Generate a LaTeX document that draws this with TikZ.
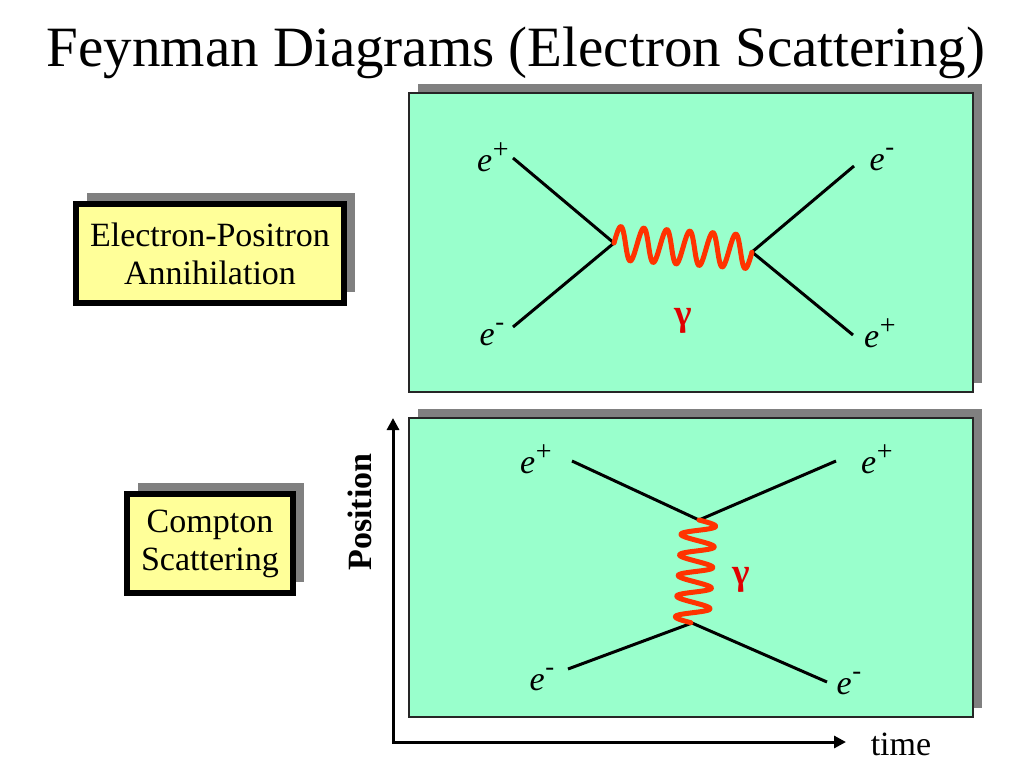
\documentclass[tikz,border=0pt]{standalone}
\usepackage{fontspec}
\setmainfont{Liberation Serif}
\usetikzlibrary{arrows.meta,shadows,calc}
\definecolor{panelgreen}{HTML}{99FFCC}
\definecolor{boxyellow}{HTML}{FFFF99}
\definecolor{shadowgray}{HTML}{808080}
\definecolor{photonred}{HTML}{FF3300}
\definecolor{gammared}{HTML}{E00000}
\newcommand{\epos}{e\kern0.5pt\raisebox{0.36em}{\upshape\fontsize{21}{21}\selectfont +}}
\newcommand{\eneg}{e\kern0.5pt\raisebox{0.42em}{\upshape\fontsize{20}{20}\selectfont -}}
\begin{document}
\begin{tikzpicture}[x=0.75pt,y=-0.75pt,
  panel/.style={draw=black!85, line width=0.8pt, fill=panelgreen, minimum width=423pt, minimum height=224.25pt, inner sep=0pt,
    drop shadow={shadow xshift=7pt, shadow yshift=7pt, fill=shadowgray, opacity=1}},
  labelbox/.style={draw=black, line width=4.5pt, fill=boxyellow, align=center, inner sep=0pt,
    font=\fontsize{25.5}{28.5}\selectfont,
    drop shadow={shadow xshift=8.25pt, shadow yshift=8.25pt, fill=shadowgray, opacity=1}},
  fermion/.style={line width=2.25pt, black},
  photon/.style={line width=3.75pt, photonred, line cap=round, line join=round},
  plabel/.style={font=\fontsize{25.5}{28}\selectfont\itshape, anchor=base, inner sep=0pt},
  glabel/.style={font=\fontsize{28}{30}\selectfont\bfseries, text=gammared, inner sep=0pt},
  axis/.style={line width=2.25pt, line join=miter, {Triangle[length=9pt,width=9pt]}-{Triangle[length=9pt,width=9pt]}},
  axlabel/.style={font=\fontsize{25.5}{28}\selectfont, inner sep=0pt}
]
\useasboundingbox (0,0) rectangle (1024,768);

% title
\node[font=\fontsize{42.75}{50}\selectfont, anchor=base, inner sep=0pt] (title) at (516,66) {Feynman Diagrams (Electron Scattering)};

% panels
\node[panel] (p1) at (691,242.5) {};
\node[panel] (p2) at (691,567.5) {};

% label boxes
\node[labelbox, minimum width=201pt, minimum height=74.25pt] (ann) at (210,253.5) {Electron-Positron\\Annihilation};
\node[labelbox, minimum width=124.5pt, minimum height=74.25pt] (comp) at (210,543.5) {Compton\\Scattering};

% top diagram
\coordinate (a1) at (513,158);
\coordinate (a2) at (513,327);
\coordinate (v1) at (614,243);
\coordinate (v2) at (752,252);
\coordinate (a3) at (854,166);
\coordinate (a4) at (853,335);
\draw[fermion] (a1) -- (v1) -- (a2);
\draw[fermion] (a3) -- (v2) -- (a4);
\draw[photon] let \p1=(v1), \p2=(v2), \n1={veclen(\x2-\x1,\y2-\y1)} in
  plot[variable=\t, domain=0:1, samples=241, smooth]
  ({\x1+\t*(\x2-\x1)-12.6pt*sin(2160*\t)*(\y2-\y1)/\n1},
   {\y1+\t*(\y2-\y1)+12.6pt*sin(2160*\t)*(\x2-\x1)/\n1});

\node[plabel] (l1) at (493,171) {\epos};
\node[plabel] (l2) at (882,170) {\eneg};
\node[plabel] (l3) at (492,345) {\eneg};
\node[plabel] (l4) at (880,347) {\epos};
\node[glabel] (g1) at (683,321) {γ};

% bottom diagram
\coordinate (b1) at (572,461);
\coordinate (b2) at (836,461);
\coordinate (w1) at (699,520);
\coordinate (w2) at (692,623);
\coordinate (b3) at (568,669);
\coordinate (b4) at (827,682);
\draw[fermion] (b1) -- (w1) -- (b2);
\draw[fermion] (b3) -- (w2) -- (b4);
\draw[photon] let \p1=(w1), \p2=(w2), \n1={veclen(\x2-\x1,\y2-\y1)} in
  plot[variable=\t, domain=0:1, samples=201, smooth]
  ({\x1+\t*(\x2-\x1)-12.75pt*sin(1800*\t)*(\y2-\y1)/\n1},
   {\y1+\t*(\y2-\y1)+12.75pt*sin(1800*\t)*(\x2-\x1)/\n1});

\node[plabel] (m1) at (536,473) {\epos};
\node[plabel] (m2) at (877,473) {\epos};
\node[plabel] (m3) at (542,690) {\eneg};
\node[plabel] (m4) at (849,694) {\eneg};
\node[glabel] (g2) at (741,580) {γ};

% axes
\coordinate (O) at (393,742);
\coordinate (ytip) at (393,418);
\coordinate (xtip) at (846,742);
\draw[axis] (ytip) -- (O) -- (xtip);
\node[axlabel, font=\fontsize{25.5}{28}\selectfont\bfseries, rotate=90] (pos) at (360,512) {Position};
\node[axlabel, anchor=base] (time) at (901,755) {time};
\end{tikzpicture}
\end{document}
